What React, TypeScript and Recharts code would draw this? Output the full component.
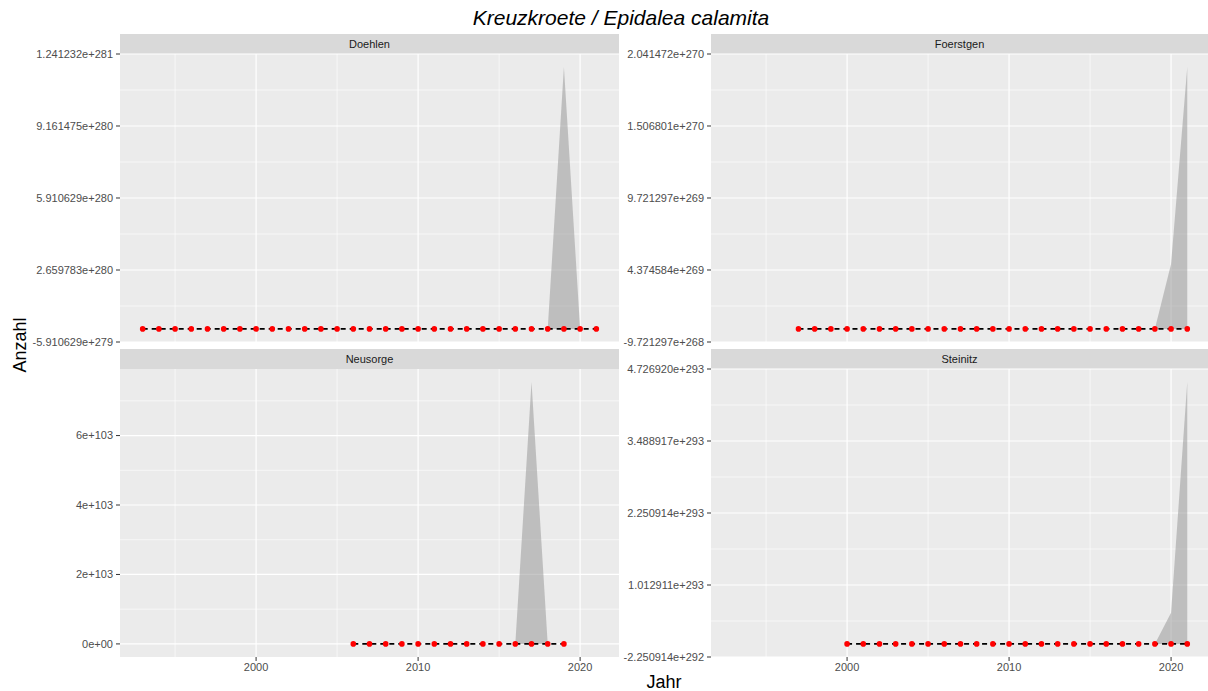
import React from 'react';
import { ComposedChart, Area, Line, XAxis, YAxis, CartesianGrid } from 'recharts';

const FONT = '"Liberation Sans", Arial, Helvetica, sans-serif';

// ---------- Data ----------
const doehlenYears = [1993, 1994, 1995, 1996, 1997, 1998, 1999, 2000, 2001, 2002, 2003, 2004, 2005, 2006, 2007, 2008, 2009, 2010, 2011, 2012, 2013, 2014, 2015, 2016, 2017, 2018, 2019, 2020, 2021];
const doehlenCounts = [0, 0, 0, 0, 0, 0, 0, 0, 0, 0, 0, 0, 0, 0, 0, 0, 0, 0, 0, 0, 0, 0, 0, 0, 0, 0, 0, 0, 0];
const doehlenLower = [0, 0, 0, 0, 0, 0, 0, 0, 0, 0, 0, 0, 0, 0, 0, 0, 0, 0, 0, 0, 0, 0, 0, 0, 0, 0, 0, 0, 0];
const doehlenUpper = [0, 0, 0, 0, 0, 0, 0, 0, 0, 0, 0, 0, 0, 0, 0, 0, 0, 0, 0, 0, 0, 0, 0, 0, 0, 0, 1.1821258e281, 0, 0];
const doehlenTicks = [-5.910629e279, 2.659783e280, 5.910629e280, 9.161475e280, 1.241232e281];
const doehlenTickLabels = ['-5.910629e+279', '2.659783e+280', '5.910629e+280', '9.161475e+280', '1.241232e+281'];

const foerstgenYears = [1997, 1998, 1999, 2000, 2001, 2002, 2003, 2004, 2005, 2006, 2007, 2008, 2009, 2010, 2011, 2012, 2013, 2014, 2015, 2016, 2017, 2018, 2019, 2020, 2021];
const foerstgenCounts = [0, 0, 0, 0, 0, 0, 0, 0, 0, 0, 0, 0, 0, 0, 0, 0, 0, 0, 0, 0, 0, 0, 0, 0, 0];
const foerstgenLower = [0, 0, 0, 0, 0, 0, 0, 0, 0, 0, 0, 0, 0, 0, 0, 0, 0, 0, 0, 0, 0, 0, 0, 0, 0];
const foerstgenUpper = [0, 0, 0, 0, 0, 0, 0, 0, 0, 0, 0, 0, 0, 0, 0, 0, 0, 0, 0, 0, 0, 0, 0, 4.82e269, 1.9442594e270];
const foerstgenTicks = [-9.721297e268, 4.374584e269, 9.721297e269, 1.506801e270, 2.041472e270];
const foerstgenTickLabels = ['-9.721297e+268', '4.374584e+269', '9.721297e+269', '1.506801e+270', '2.041472e+270'];

const neusorgeYears = [2006, 2007, 2008, 2009, 2010, 2011, 2012, 2013, 2014, 2015, 2016, 2017, 2018, 2019];
const neusorgeCounts = [0, 0, 0, 0, 0, 0, 0, 0, 0, 0, 0, 0, 0, 0];
const neusorgeLower = [0, 0, 0, 0, 0, 0, 0, 0, 0, 0, 0, 0, 0, 0];
const neusorgeUpper = [0, 0, 0, 0, 0, 0, 0, 0, 0, 0, 0, 7.54e103, 0, 0];
const neusorgeDomain = [-0.377e103, 7.917e103];
const neusorgeTicks = [0, 2e103, 4e103, 6e103];
const neusorgeTickLabels = ['0e+00', '2e+103', '4e+103', '6e+103'];
const neusorgeMinor = [1e103, 3e103, 5e103, 7e103];

const steinitzYears = [2000, 2001, 2002, 2003, 2004, 2005, 2006, 2007, 2008, 2009, 2010, 2011, 2012, 2013, 2014, 2015, 2016, 2017, 2018, 2019, 2020, 2021];
const steinitzCounts = [0, 0, 0, 0, 0, 0, 0, 0, 0, 0, 0, 0, 0, 0, 0, 0, 0, 0, 0, 0, 0, 0];
const steinitzLower = [0, 0, 0, 0, 0, 0, 0, 0, 0, 0, 0, 0, 0, 0, 0, 0, 0, 0, 0, 0, 0, 0];
const steinitzUpper = [0, 0, 0, 0, 0, 0, 0, 0, 0, 0, 0, 0, 0, 0, 0, 0, 0, 0, 0, 0, 5.37e292, 4.501828e293];
const steinitzTicks = [-2.250914e292, 1.012911e293, 2.250914e293, 3.488917e293, 4.72692e293];
const steinitzTickLabels = ['-2.250914e+292', '1.012911e+293', '2.250914e+293', '3.488917e+293', '4.726920e+293'];

const xTicks = [2000, 2010, 2020];
const xTickLabels = ['2000', '2010', '2020'];
const xMinor = [1995, 2005, 2015];

const titleText = 'Kreuzkroete / Epidalea calamita';
const xTitle = 'Jahr';
const yTitle = 'Anzahl';

// ---------- Helpers ----------
function buildRows(years: number[], counts: number[], lower: number[], upper: number[]) {
  return years.map((year, i) => ({ year, count: counts[i], band: [lower[i], upper[i]] }));
}
function midpoints(t: number[]) {
  const out: number[] = [];
  for (let i = 0; i < t.length - 1; i++) out.push((t[i] + t[i + 1]) / 2);
  return out;
}

type PanelProps = {
  rows: any[];
  left: number;
  top: number;
  width: number;
  yAxisWidth: number;
  xDomain: number[];
  yDomain: number[];
  yTicks: number[];
  yLabels: string[];
  yMinor: number[];
  showX: boolean;
};

const PLOT_H = 288;

function Panel(p: PanelProps) {
  const marginTop = 10;
  const xAxisH = p.showX ? 22 : 0;
  const height = marginTop + PLOT_H + (p.showX ? 0 : 10) + xAxisH;
  return (
    <div style={{ position: 'absolute', left: p.left, top: p.top - marginTop }}>
      <ComposedChart
        width={p.width}
        height={height}
        data={p.rows}
        margin={{ top: marginTop, right: 0, bottom: p.showX ? 0 : 10, left: 0 }}
      >
        <CartesianGrid
          fill="#EBEBEB"
          stroke="#FFFFFF"
          strokeWidth={0.6}
          horizontalValues={p.yMinor}
          verticalValues={xMinor}
        />
        <CartesianGrid
          stroke="#FFFFFF"
          strokeWidth={1.2}
          horizontalValues={p.yTicks}
          verticalValues={xTicks}
        />
        <XAxis
          dataKey="year"
          type="number"
          domain={p.xDomain}
          allowDataOverflow
          ticks={xTicks}
          interval={0}
          hide={!p.showX}
          height={xAxisH}
          axisLine={false}
          tickLine={{ stroke: '#333333' }}
          tickSize={4}
          tickMargin={2}
          tick={{ fill: '#4D4D4D', fontSize: 11, fontFamily: FONT }}
          tickFormatter={(v: number, i: number) => xTickLabels[i] ?? String(v)}
        />
        <YAxis
          type="number"
          width={p.yAxisWidth}
          domain={p.yDomain}
          allowDataOverflow
          ticks={p.yTicks}
          interval={0}
          axisLine={false}
          tickLine={{ stroke: '#333333' }}
          tickSize={4}
          tickMargin={3}
          tick={{ fill: '#4D4D4D', fontSize: 11, fontFamily: FONT }}
          tickFormatter={(v: number, i: number) => p.yLabels[i] ?? String(v)}
        />
        <Area
          dataKey="band"
          type="linear"
          stroke="none"
          fill="#999999"
          fillOpacity={0.55}
          isAnimationActive={false}
          activeDot={false}
        />
        <Line
          dataKey="count"
          type="linear"
          stroke="#000000"
          strokeWidth={1.6}
          strokeDasharray="5 4"
          dot={{ r: 2.8, fill: '#FF0000', stroke: 'none' }}
          activeDot={false}
          isAnimationActive={false}
        />
      </ComposedChart>
    </div>
  );
}

function Strip({ x, y, w, label }: { x: number; y: number; w: number; label: string }) {
  return (
    <g>
      <rect x={x} y={y} width={w} height={20} fill="#D9D9D9" />
      <text x={x + w / 2} y={y + 14} textAnchor="middle" fontSize={11} fill="#1A1A1A" fontFamily={FONT}>
        {label}
      </text>
    </g>
  );
}

export default function App() {
  const leftDomain = [1991.6, 2022.4];
  const rightDomain = [1991.6, 2022.28];
  return (
    <div style={{ position: 'absolute', left: 0, top: 0, width: 1208, height: 691, overflow: 'hidden', background: '#FFFFFF' }}>
      <svg width={1208} height={691} style={{ position: 'absolute', left: 0, top: 0 }}>
        <text x={621} y={25} textAnchor="middle" fontSize={21} fontStyle="italic" fill="#000000" fontFamily={FONT}>
          {titleText}
        </text>
        <Strip x={120} y={34} w={499} label="Doehlen" />
        <Strip x={711} y={34} w={497} label="Foerstgen" />
        <Strip x={120} y={349} w={499} label="Neusorge" />
        <Strip x={711} y={349} w={497} label="Steinitz" />
        <text x={664} y={688} textAnchor="middle" fontSize={18} fill="#000000" fontFamily={FONT}>
          {xTitle}
        </text>
        <text
          x={0}
          y={0}
          transform="translate(26,345) rotate(-90)"
          textAnchor="middle"
          fontSize={18}
          fill="#000000"
          fontFamily={FONT}
        >
          {yTitle}
        </text>
      </svg>
      <Panel
        rows={buildRows(doehlenYears, doehlenCounts, doehlenLower, doehlenUpper)}
        left={0}
        top={54}
        width={619}
        yAxisWidth={120}
        xDomain={leftDomain}
        yDomain={[doehlenTicks[0], doehlenTicks[4]]}
        yTicks={doehlenTicks}
        yLabels={doehlenTickLabels}
        yMinor={midpoints(doehlenTicks)}
        showX={false}
      />
      <Panel
        rows={buildRows(foerstgenYears, foerstgenCounts, foerstgenLower, foerstgenUpper)}
        left={619}
        top={54}
        width={589}
        yAxisWidth={92}
        xDomain={rightDomain}
        yDomain={[foerstgenTicks[0], foerstgenTicks[4]]}
        yTicks={foerstgenTicks}
        yLabels={foerstgenTickLabels}
        yMinor={midpoints(foerstgenTicks)}
        showX={false}
      />
      <Panel
        rows={buildRows(neusorgeYears, neusorgeCounts, neusorgeLower, neusorgeUpper)}
        left={0}
        top={369}
        width={619}
        yAxisWidth={120}
        xDomain={leftDomain}
        yDomain={neusorgeDomain}
        yTicks={neusorgeTicks}
        yLabels={neusorgeTickLabels}
        yMinor={neusorgeMinor}
        showX={true}
      />
      <Panel
        rows={buildRows(steinitzYears, steinitzCounts, steinitzLower, steinitzUpper)}
        left={619}
        top={369}
        width={589}
        yAxisWidth={92}
        xDomain={rightDomain}
        yDomain={[steinitzTicks[0], steinitzTicks[4]]}
        yTicks={steinitzTicks}
        yLabels={steinitzTickLabels}
        yMinor={midpoints(steinitzTicks)}
        showX={true}
      />
    </div>
  );
}
